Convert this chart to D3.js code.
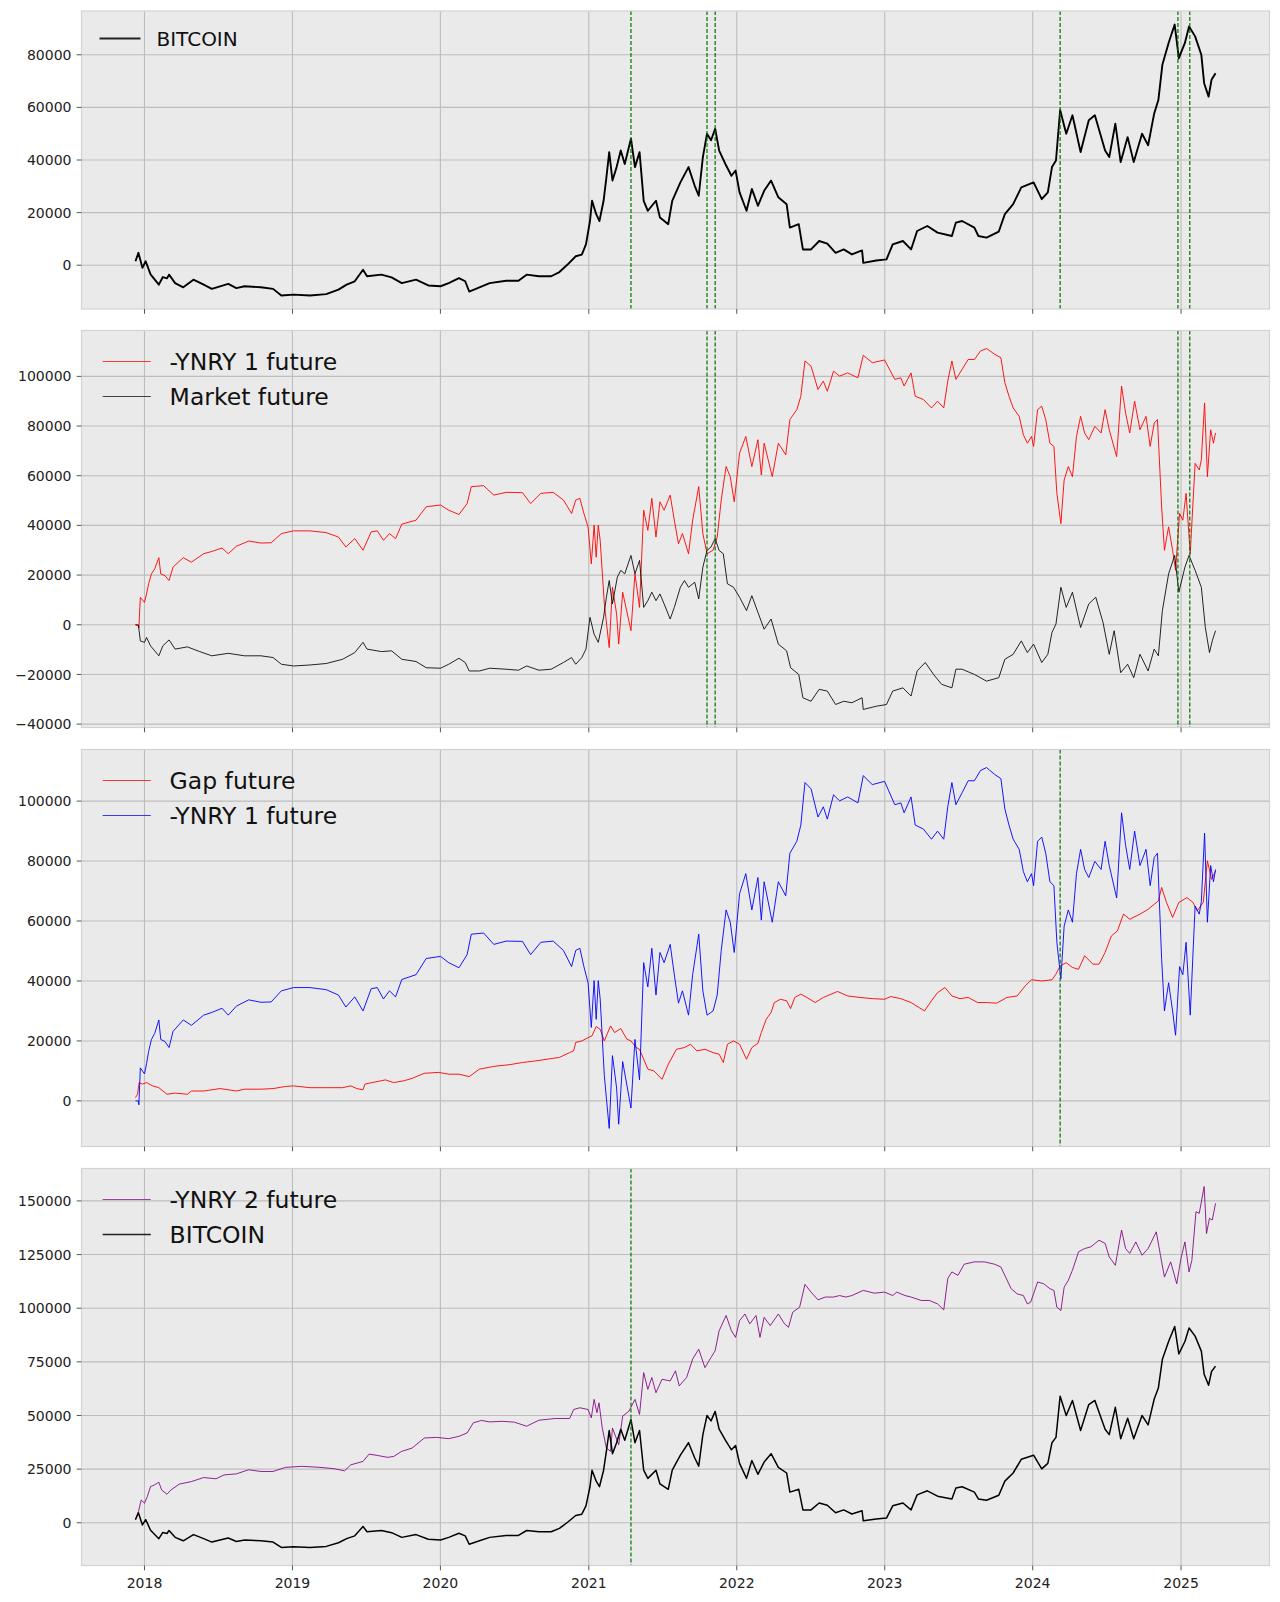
<!DOCTYPE html>
<html>
<head>
<meta charset="utf-8">
<script src="https://cdn.jsdelivr.net/npm/d3@7"></script>
<style>
  body { margin: 0; background: #fff; }
  svg { display: block; font-family: "DejaVu Sans", sans-serif; }
</style>
</head>
<body>
<svg id="chart" width="1280" height="1602"></svg>
<script>
// values, [decimal year, value]
var years = [2018, 2019, 2020, 2021, 2022, 2023, 2024, 2025];

var bitcoin = [
  [2017.939, 1500], [2017.959, 4700], [2017.986, -1000], [2018.008, 1500], [2018.041, -3500], [2018.097, -7400],
  [2018.124, -4500], [2018.152, -5000], [2018.166, -3600], [2018.207, -6800], [2018.262, -8400], [2018.331, -5500],
  [2018.400, -7400], [2018.455, -9000], [2018.566, -7100], [2018.621, -8700], [2018.676, -8000], [2018.787, -8400],
  [2018.869, -9000], [2018.925, -11500], [2019.007, -11200], [2019.118, -11500], [2019.228, -11000], [2019.311, -9300],
  [2019.366, -7400], [2019.421, -6100], [2019.477, -1700], [2019.504, -4200], [2019.601, -3600], [2019.670, -4600],
  [2019.739, -6800], [2019.835, -5500], [2019.918, -7700], [2020.001, -8000], [2020.056, -6800], [2020.125, -4900],
  [2020.167, -6100], [2020.194, -10000], [2020.263, -8400], [2020.332, -6800], [2020.443, -5900], [2020.526, -5900],
  [2020.581, -3600], [2020.664, -4200], [2020.746, -4200], [2020.802, -2600], [2020.857, 250], [2020.912, 3400],
  [2020.953, 4000], [2020.981, 7900], [2021.008, 16800], [2021.022, 24500], [2021.050, 19400], [2021.072, 16800],
  [2021.100, 24500], [2021.119, 33400], [2021.138, 43000], [2021.160, 32200], [2021.188, 37300], [2021.216, 43600],
  [2021.243, 38500], [2021.285, 48100], [2021.312, 37300], [2021.343, 43000], [2021.371, 24500], [2021.399, 20700],
  [2021.454, 24500], [2021.481, 18100], [2021.537, 15600], [2021.564, 24500], [2021.619, 31500], [2021.674, 37300],
  [2021.716, 30200], [2021.743, 26400], [2021.771, 41100], [2021.799, 50000], [2021.826, 47500], [2021.854, 51900],
  [2021.881, 43600], [2021.923, 38500], [2021.964, 34000], [2021.992, 36000], [2022.019, 27700], [2022.066, 20700],
  [2022.102, 29000], [2022.143, 22600], [2022.185, 28300], [2022.232, 32200], [2022.281, 25800], [2022.337, 23200],
  [2022.359, 14300], [2022.419, 15600], [2022.447, 6000], [2022.502, 6000], [2022.557, 9200], [2022.612, 8200],
  [2022.668, 4700], [2022.723, 6000], [2022.778, 4100], [2022.847, 5600], [2022.855, 900], [2022.943, 1800],
  [2023.012, 2200], [2023.054, 7900], [2023.123, 9200], [2023.178, 6000], [2023.219, 13000], [2023.288, 14900],
  [2023.357, 12400], [2023.454, 11100], [2023.481, 16200], [2023.523, 16800], [2023.606, 14300], [2023.633, 11100],
  [2023.688, 10500], [2023.771, 12800], [2023.812, 19400], [2023.868, 23200], [2023.923, 29600], [2024.006, 31500],
  [2024.061, 25100], [2024.102, 27700], [2024.130, 37300], [2024.157, 39800], [2024.185, 59000], [2024.226, 50000],
  [2024.268, 57000], [2024.323, 43000], [2024.378, 55100], [2024.419, 57000], [2024.488, 43600], [2024.516, 41100],
  [2024.557, 53800], [2024.593, 39200], [2024.640, 48700], [2024.681, 39200], [2024.737, 50000], [2024.778, 45600],
  [2024.819, 57700], [2024.847, 62800], [2024.874, 76200], [2024.916, 84500], [2024.957, 91500], [2024.985, 78700],
  [2025.026, 84500], [2025.054, 90800], [2025.095, 87000], [2025.137, 80000], [2025.156, 69200], [2025.186, 64100],
  [2025.206, 70500], [2025.233, 73000]
];

var ynry1 = [
  [2017.939, 0], [2017.959, 0], [2017.962, -1300], [2017.972, 11000], [2018.000, 9000], [2018.014, 12400],
  [2018.028, 16500], [2018.047, 20500], [2018.069, 22500], [2018.097, 27000], [2018.110, 20500], [2018.138, 19800],
  [2018.166, 17800], [2018.193, 23200], [2018.262, 27000], [2018.317, 25200], [2018.400, 28600], [2018.455, 29500],
  [2018.524, 30900], [2018.566, 28600], [2018.621, 31600], [2018.704, 33700], [2018.787, 32900], [2018.856, 33000],
  [2018.925, 36700], [2019.007, 37800], [2019.118, 37800], [2019.228, 37100], [2019.311, 35300], [2019.361, 31300],
  [2019.421, 34700], [2019.477, 30000], [2019.532, 37400], [2019.573, 37800], [2019.615, 34000], [2019.656, 36700],
  [2019.697, 34700], [2019.739, 40500], [2019.835, 42100], [2019.904, 47500], [2020.001, 48200], [2020.056, 46100],
  [2020.125, 44400], [2020.180, 48800], [2020.208, 55600], [2020.291, 56000], [2020.360, 52200], [2020.443, 53300],
  [2020.553, 53200], [2020.608, 48800], [2020.677, 52900], [2020.760, 53300], [2020.829, 50200], [2020.884, 44800],
  [2020.912, 50200], [2020.940, 50900], [2020.967, 44800], [2020.995, 39400], [2021.017, 24500], [2021.036, 40100],
  [2021.050, 27200], [2021.064, 40100], [2021.077, 34000], [2021.105, 8400], [2021.138, -9200], [2021.160, 15100],
  [2021.188, 4300], [2021.202, -7800], [2021.229, 13100], [2021.285, -2400], [2021.312, 20500], [2021.343, 7000],
  [2021.371, 46100], [2021.399, 38000], [2021.426, 50900], [2021.454, 35300], [2021.481, 49500], [2021.509, 46100],
  [2021.550, 52200], [2021.578, 42100], [2021.606, 32600], [2021.633, 36700], [2021.674, 28600], [2021.702, 42100],
  [2021.743, 55600], [2021.771, 36700], [2021.799, 28600], [2021.840, 30000], [2021.868, 35300], [2021.895, 50200],
  [2021.928, 63700], [2021.956, 59600], [2021.983, 49500], [2022.019, 69100], [2022.061, 75800], [2022.102, 63700],
  [2022.143, 74500], [2022.166, 60300], [2022.185, 73100], [2022.240, 59600], [2022.281, 73100], [2022.331, 68400],
  [2022.359, 82600], [2022.406, 86600], [2022.433, 92000], [2022.461, 106200], [2022.502, 104100], [2022.549, 94700],
  [2022.585, 98100], [2022.612, 94000], [2022.654, 102100], [2022.695, 100100], [2022.750, 101400], [2022.819, 99400],
  [2022.855, 108500], [2022.916, 105500], [2022.999, 106600], [2023.068, 98800], [2023.109, 99400], [2023.131, 96100],
  [2023.178, 101400], [2023.206, 92000], [2023.261, 90700], [2023.316, 87300], [2023.357, 90000], [2023.399, 87300],
  [2023.426, 98100], [2023.454, 106200], [2023.481, 98800], [2023.523, 102800], [2023.564, 106800], [2023.606, 106800],
  [2023.647, 110200], [2023.688, 111200], [2023.743, 108900], [2023.785, 107500], [2023.812, 97400], [2023.840, 92000],
  [2023.868, 87300], [2023.909, 83900], [2023.937, 76500], [2023.964, 73100], [2023.992, 75800], [2024.006, 71800],
  [2024.033, 86600], [2024.061, 88000], [2024.088, 82600], [2024.116, 73100], [2024.143, 71800], [2024.163, 52900],
  [2024.190, 40700], [2024.212, 58300], [2024.240, 63700], [2024.268, 59600], [2024.295, 75800], [2024.323, 83900],
  [2024.350, 77200], [2024.378, 74500], [2024.419, 79900], [2024.461, 77200], [2024.488, 86600], [2024.516, 78500],
  [2024.566, 67700], [2024.599, 96100], [2024.626, 85300], [2024.654, 77200], [2024.687, 90000], [2024.723, 78500],
  [2024.764, 83900], [2024.792, 71800], [2024.819, 81200], [2024.841, 82600], [2024.869, 47500], [2024.888, 30000],
  [2024.916, 39400], [2024.943, 30000], [2024.963, 21900], [2024.990, 44800], [2025.012, 42100], [2025.034, 52900],
  [2025.062, 28600], [2025.095, 65000], [2025.123, 62300], [2025.137, 66400], [2025.159, 89300], [2025.178, 59600],
  [2025.200, 78500], [2025.219, 73100], [2025.233, 77200]
];

var market = [
  [2017.939, 0], [2017.959, -300], [2017.972, -6500], [2018.000, -7100], [2018.014, -5100], [2018.041, -8500],
  [2018.097, -12500], [2018.124, -8500], [2018.166, -6100], [2018.207, -9800], [2018.290, -8900], [2018.373, -10800],
  [2018.455, -12500], [2018.566, -11500], [2018.676, -12500], [2018.787, -12500], [2018.869, -13200], [2018.925, -15900],
  [2019.007, -16600], [2019.118, -16200], [2019.228, -15600], [2019.339, -13900], [2019.421, -11200], [2019.477, -7100],
  [2019.504, -9800], [2019.601, -10800], [2019.670, -10500], [2019.739, -13900], [2019.835, -14800], [2019.904, -17300],
  [2020.001, -17500], [2020.056, -15900], [2020.125, -13500], [2020.167, -15200], [2020.194, -18600], [2020.263, -18600],
  [2020.332, -17500], [2020.443, -17900], [2020.526, -18300], [2020.581, -16600], [2020.664, -18300], [2020.746, -17900],
  [2020.829, -15200], [2020.884, -13200], [2020.912, -15900], [2020.953, -13200], [2020.981, -9800], [2021.008, 3000],
  [2021.036, -3800], [2021.064, -7100], [2021.100, 3000], [2021.119, 11100], [2021.138, 17800], [2021.160, 8400],
  [2021.193, 19200], [2021.216, 21900], [2021.243, 20500], [2021.285, 27900], [2021.312, 20500], [2021.343, 25900],
  [2021.371, 7000], [2021.399, 9700], [2021.426, 13100], [2021.454, 9700], [2021.481, 12400], [2021.509, 8400],
  [2021.550, 2300], [2021.578, 7000], [2021.619, 15100], [2021.647, 17800], [2021.674, 15100], [2021.716, 17100],
  [2021.743, 10400], [2021.771, 23200], [2021.799, 29900], [2021.826, 31300], [2021.854, 34700], [2021.881, 29900],
  [2021.909, 28600], [2021.937, 16500], [2021.978, 15100], [2022.019, 11100], [2022.066, 5700], [2022.102, 11700],
  [2022.143, 5000], [2022.185, -1800], [2022.232, 2300], [2022.281, -7800], [2022.337, -10500], [2022.364, -17300],
  [2022.419, -20000], [2022.447, -29400], [2022.502, -30800], [2022.557, -26000], [2022.612, -26700], [2022.668, -32100],
  [2022.723, -30800], [2022.778, -31400], [2022.847, -29400], [2022.855, -34100], [2022.943, -32800], [2023.012, -32100],
  [2023.054, -26700], [2023.123, -25400], [2023.178, -28700], [2023.219, -18600], [2023.274, -15200], [2023.330, -20000],
  [2023.385, -24000], [2023.454, -25400], [2023.481, -17900], [2023.523, -17900], [2023.606, -20000], [2023.688, -22700],
  [2023.771, -21300], [2023.812, -13900], [2023.868, -11900], [2023.923, -6500], [2023.964, -11200], [2024.006, -7800],
  [2024.061, -15200], [2024.102, -11900], [2024.130, -3100], [2024.157, 300], [2024.190, 15100], [2024.226, 7000],
  [2024.268, 13100], [2024.323, -1100], [2024.378, 8400], [2024.425, 11100], [2024.474, 900], [2024.516, -11900],
  [2024.549, -2400], [2024.593, -19300], [2024.640, -15900], [2024.681, -21300], [2024.723, -11900], [2024.778, -18600],
  [2024.819, -9800], [2024.847, -12500], [2024.874, 5700], [2024.916, 20500], [2024.957, 27900], [2024.985, 13100],
  [2025.026, 23200], [2025.054, 27900], [2025.095, 21900], [2025.137, 15100], [2025.164, -1100], [2025.192, -11200],
  [2025.211, -6500], [2025.233, -2400]
];

var gap = [
  [2017.939, 1100], [2017.953, 2200], [2017.964, 6100], [2017.986, 5600], [2018.014, 6100], [2018.055, 5000],
  [2018.097, 4400], [2018.152, 2200], [2018.207, 2600], [2018.290, 2200], [2018.317, 3300], [2018.400, 3300],
  [2018.511, 4100], [2018.621, 3300], [2018.676, 3900], [2018.787, 3900], [2018.869, 4100], [2018.952, 4800],
  [2019.007, 5000], [2019.118, 4400], [2019.228, 4400], [2019.339, 4400], [2019.394, 5000], [2019.435, 4100],
  [2019.477, 3700], [2019.490, 5600], [2019.559, 6300], [2019.628, 7000], [2019.684, 6100], [2019.753, 6700],
  [2019.808, 7500], [2019.891, 9200], [2019.987, 9500], [2020.056, 8900], [2020.125, 8900], [2020.194, 8100],
  [2020.263, 10600], [2020.360, 11500], [2020.470, 12100], [2020.553, 12800], [2020.636, 13300], [2020.719, 13900],
  [2020.802, 14500], [2020.871, 16100], [2020.898, 16700], [2020.912, 19500], [2020.953, 20000], [2020.995, 21100],
  [2021.022, 21700], [2021.050, 24800], [2021.077, 23900], [2021.105, 20000], [2021.147, 25000], [2021.174, 22800],
  [2021.216, 24100], [2021.257, 20600], [2021.285, 20000], [2021.320, 17800], [2021.343, 17200], [2021.399, 10600],
  [2021.440, 10000], [2021.495, 7200], [2021.537, 12200], [2021.592, 17200], [2021.647, 17800], [2021.688, 18900],
  [2021.730, 16700], [2021.785, 17200], [2021.840, 16100], [2021.881, 15600], [2021.909, 12800], [2021.937, 18900],
  [2021.978, 20000], [2022.019, 18900], [2022.066, 13900], [2022.102, 17800], [2022.143, 19200], [2022.166, 22800],
  [2022.199, 27200], [2022.232, 29500], [2022.254, 32800], [2022.295, 33900], [2022.337, 33400], [2022.364, 30800],
  [2022.392, 34500], [2022.433, 35600], [2022.474, 34500], [2022.530, 32800], [2022.585, 34500], [2022.681, 36500],
  [2022.750, 35000], [2022.833, 34500], [2022.916, 34100], [2022.999, 33900], [2023.040, 34800], [2023.109, 34100],
  [2023.178, 32800], [2023.233, 31100], [2023.269, 30000], [2023.316, 33400], [2023.357, 36100], [2023.407, 37800],
  [2023.454, 35000], [2023.509, 34100], [2023.564, 34500], [2023.628, 32800], [2023.688, 32800], [2023.757, 32600],
  [2023.826, 34500], [2023.895, 35000], [2023.950, 38400], [2023.992, 40400], [2024.061, 40000], [2024.130, 40400],
  [2024.157, 42300], [2024.185, 45000], [2024.226, 46100], [2024.268, 44500], [2024.309, 43900], [2024.350, 48400],
  [2024.406, 45600], [2024.447, 45600], [2024.488, 49500], [2024.530, 55000], [2024.571, 56700], [2024.612, 62300],
  [2024.654, 60600], [2024.723, 62300], [2024.778, 63900], [2024.819, 65600], [2024.847, 66700], [2024.869, 71200],
  [2024.902, 66200], [2024.943, 61200], [2024.985, 66200], [2025.040, 67800], [2025.081, 66200], [2025.109, 63400],
  [2025.150, 66200], [2025.178, 80100], [2025.206, 73900], [2025.233, 76700]
];

var ynry2 = [
  [2017.939, 1300], [2017.959, 5200], [2017.978, 10600], [2018.000, 9100], [2018.019, 12200], [2018.041, 16900],
  [2018.069, 17700], [2018.097, 18900], [2018.116, 15300], [2018.152, 13300], [2018.179, 15300], [2018.235, 18000],
  [2018.317, 19200], [2018.400, 21100], [2018.483, 20500], [2018.538, 22300], [2018.621, 22800], [2018.704, 24700],
  [2018.787, 23900], [2018.869, 23900], [2018.952, 25800], [2019.063, 26300], [2019.173, 25900], [2019.283, 25200],
  [2019.352, 24200], [2019.394, 27000], [2019.477, 28600], [2019.518, 32000], [2019.573, 31400], [2019.642, 30500],
  [2019.684, 30900], [2019.739, 33300], [2019.808, 34800], [2019.891, 39500], [2019.973, 39800], [2020.056, 39200],
  [2020.125, 40300], [2020.180, 41900], [2020.222, 46600], [2020.277, 47700], [2020.332, 47000], [2020.415, 47300],
  [2020.498, 46900], [2020.581, 45000], [2020.664, 47800], [2020.774, 48600], [2020.871, 48600], [2020.898, 52800],
  [2020.940, 53600], [2020.995, 52800], [2021.017, 48900], [2021.036, 57500], [2021.055, 51300], [2021.069, 55900],
  [2021.091, 44200], [2021.119, 34800], [2021.147, 33300], [2021.160, 44200], [2021.202, 36400], [2021.229, 49700],
  [2021.271, 52000], [2021.312, 57500], [2021.343, 50500], [2021.371, 70000], [2021.399, 62200], [2021.426, 67700],
  [2021.454, 60600], [2021.495, 66900], [2021.550, 66100], [2021.586, 70800], [2021.611, 63800], [2021.661, 67700],
  [2021.702, 76300], [2021.743, 80900], [2021.785, 72300], [2021.826, 77000], [2021.854, 80200], [2021.881, 89500],
  [2021.928, 96600], [2021.964, 89500], [2021.992, 86400], [2022.019, 94200], [2022.055, 97300], [2022.088, 92700],
  [2022.130, 96600], [2022.157, 86400], [2022.185, 95800], [2022.226, 91900], [2022.281, 97300], [2022.323, 92700],
  [2022.350, 91100], [2022.378, 98100], [2022.425, 100500], [2022.461, 111100], [2022.502, 107500], [2022.549, 103900],
  [2022.599, 105200], [2022.654, 105200], [2022.695, 105900], [2022.737, 105200], [2022.778, 105900], [2022.855, 108300],
  [2022.930, 107000], [2022.999, 107500], [2023.054, 105900], [2023.081, 107500], [2023.137, 105900], [2023.178, 105200],
  [2023.247, 103600], [2023.302, 103600], [2023.357, 102000], [2023.399, 99200], [2023.426, 113800], [2023.454, 116900],
  [2023.495, 115300], [2023.537, 120500], [2023.606, 121600], [2023.674, 121600], [2023.743, 120500], [2023.785, 119200],
  [2023.812, 115300], [2023.854, 109100], [2023.895, 106700], [2023.937, 105900], [2023.964, 102000], [2023.986, 102800],
  [2024.006, 106700], [2024.033, 112200], [2024.074, 111400], [2024.116, 109100], [2024.143, 108300], [2024.163, 100500],
  [2024.190, 98900], [2024.212, 109800], [2024.240, 113000], [2024.268, 117700], [2024.309, 126300], [2024.350, 127800],
  [2024.392, 128600], [2024.447, 131700], [2024.488, 130200], [2024.516, 123900], [2024.557, 120000], [2024.599, 136400],
  [2024.626, 127800], [2024.654, 125500], [2024.695, 130900], [2024.737, 124700], [2024.778, 127800], [2024.833, 135600],
  [2024.861, 124700], [2024.888, 114500], [2024.930, 121600], [2024.971, 111400], [2024.999, 123100], [2025.026, 130900],
  [2025.054, 116900], [2025.073, 122300], [2025.101, 145000], [2025.123, 144200], [2025.156, 156700], [2025.172, 134800],
  [2025.192, 141900], [2025.211, 141100], [2025.233, 148900]
];

// dates of the dashed markers in each panel
var events1 = [2021.285, 2021.799, 2021.854, 2024.185, 2024.979, 2025.059];
var events2 = [2021.799, 2021.854, 2024.979, 2025.059];
var events3 = [2024.185];
var events4 = [2021.285];

var ticks1 = [0, 20000, 40000, 60000, 80000];
var ticks2 = [-40000, -20000, 0, 20000, 40000, 60000, 80000, 100000];
var ticks3 = [0, 20000, 40000, 60000, 80000, 100000];
var ticks4 = [0, 25000, 50000, 75000, 100000, 125000, 150000];

(function (d3) {
  'use strict';

  var svg = d3.select("#chart");
  var left = 81.5, right = 1269.5;

  function toDate(y) {
    var yr = Math.floor(y);
    var a = Date.UTC(yr, 0, 1), b = Date.UTC(yr + 1, 0, 1);
    return new Date(a + (y - yr) * (b - a));
  }

  var panels = [
    {top: 11, height: 298, ticks: ticks1, events: events1, fontSize: 20, legendY: 27.5,
      series: [{name: "BITCOIN", data: bitcoin, color: "#000", width: 1.9, opacity: 1}]},
    {top: 330.5, height: 397, ticks: ticks2, events: events2, fontSize: 23.5, legendY: 31,
      series: [{name: "-YNRY 1 future", data: ynry1, color: "red", width: 1, opacity: 0.9},
               {name: "Market future", data: market, color: "#000", width: 1, opacity: 0.85}]},
    {top: 749.5, height: 397, ticks: ticks3, events: events3, fontSize: 23.5, legendY: 31,
      series: [{name: "Gap future", data: gap, color: "red", width: 1, opacity: 0.9},
               {name: "-YNRY 1 future", data: ynry1, color: "blue", width: 1, opacity: 0.9}]},
    {top: 1168.5, height: 397, ticks: ticks4, events: events4, fontSize: 23.5, legendY: 31,
      series: [{name: "-YNRY 2 future", data: ynry2, color: "purple", width: 1, opacity: 0.85},
               {name: "BITCOIN", data: bitcoin, color: "#000", width: 1.5, opacity: 1}]}
  ];

  // shared x domain with 5% margins like matplotlib
  var allT = [];
  panels.forEach(function (p) {
    p.series.forEach(function (s) { s.data.forEach(function (d) { allT.push(d[0]); }); });
  });
  var tExt = d3.extent(allT);
  var tPad = (tExt[1] - tExt[0]) * 0.05;
  var x = d3.scaleUtc()
    .domain([toDate(tExt[0] - tPad), toDate(tExt[1] + tPad)])
    .range([left, right]);

  panels.forEach(function (p, pi) {
    var bottom = p.top + p.height;
    var vals = [];
    p.series.forEach(function (s) { s.data.forEach(function (d) { vals.push(d[1]); }); });
    var ext = d3.extent(vals);
    var pad = (ext[1] - ext[0]) * 0.05;
    var y = d3.scaleLinear().domain([ext[0] - pad, ext[1] + pad]).range([bottom, p.top]);

    var g = svg.append("g").attr("class", "panel");

    g.append("rect")
      .attr("x", left).attr("y", p.top)
      .attr("width", right - left).attr("height", p.height)
      .attr("fill", "#eaeaea");

    var clipId = "clip" + pi;
    g.append("clipPath").attr("id", clipId).append("rect")
      .attr("x", left).attr("y", p.top)
      .attr("width", right - left).attr("height", p.height);

    // grid
    g.selectAll(".ygrid").data(p.ticks).enter().append("line")
      .attr("x1", left).attr("x2", right)
      .attr("y1", function (d) { return y(d); }).attr("y2", function (d) { return y(d); })
      .attr("stroke", "#bdbdbd").attr("stroke-width", 1.1);
    g.selectAll(".xgrid").data(years).enter().append("line")
      .attr("y1", p.top).attr("y2", bottom)
      .attr("x1", function (d) { return x(toDate(d)); }).attr("x2", function (d) { return x(toDate(d)); })
      .attr("stroke", "#bdbdbd").attr("stroke-width", 1.1);

    var line = d3.line()
      .x(function (d) { return x(toDate(d[0])); })
      .y(function (d) { return y(d[1]); });

    var plot = g.append("g").attr("clip-path", "url(#" + clipId + ")");
    p.series.forEach(function (s) {
      plot.append("path")
        .datum(s.data)
        .attr("d", line)
        .attr("fill", "none")
        .attr("stroke", s.color)
        .attr("stroke-opacity", s.opacity)
        .attr("stroke-width", s.width)
        .attr("stroke-linejoin", "round");
    });

    plot.selectAll(".event").data(p.events).enter().append("line")
      .attr("x1", function (d) { return x(toDate(d)); }).attr("x2", function (d) { return x(toDate(d)); })
      .attr("y1", p.top).attr("y2", bottom)
      .attr("stroke", "#007000").attr("stroke-width", 1.2)
      .attr("stroke-dasharray", "4,2");

    // frame
    g.append("rect")
      .attr("x", left).attr("y", p.top)
      .attr("width", right - left).attr("height", p.height)
      .attr("fill", "none").attr("stroke", "#d2d2d2").attr("stroke-width", 1.2);

    // y ticks and labels
    var yt = g.selectAll(".ytick").data(p.ticks).enter().append("g");
    yt.append("line")
      .attr("x1", left - 4.8).attr("x2", left)
      .attr("y1", function (d) { return y(d); }).attr("y2", function (d) { return y(d); })
      .attr("stroke", "#555").attr("stroke-width", 1);
    yt.append("text")
      .attr("x", left - 10)
      .attr("y", function (d) { return y(d) + 5.1; })
      .attr("text-anchor", "end")
      .attr("font-size", 14)
      .attr("fill", "#222")
      .text(function (d) { return d3.format("d")(d); });

    // x ticks, labels only on the bottom panel
    g.selectAll(".xtick").data(years).enter().append("line")
      .attr("x1", function (d) { return x(toDate(d)); }).attr("x2", function (d) { return x(toDate(d)); })
      .attr("y1", bottom).attr("y2", bottom + 4.8)
      .attr("stroke", "#555").attr("stroke-width", 1);
    if (pi === panels.length - 1) {
      g.selectAll(".xlabel").data(years).enter().append("text")
        .attr("x", function (d) { return x(toDate(d)); })
        .attr("y", bottom + 22.5)
        .attr("text-anchor", "middle")
        .attr("font-size", 14)
        .attr("fill", "#222")
        .text(function (d) { return d; });
    }

    // legend
    var fs = p.fontSize;
    var lx = left + 0.9 * fs;
    var leg = g.selectAll(".legend").data(p.series).enter().append("g")
      .attr("transform", function (d, i) { return "translate(" + lx + "," + (p.top + p.legendY + i * 1.49 * fs) + ")"; });
    leg.append("line")
      .attr("x1", 0).attr("x2", 2.05 * fs)
      .attr("stroke", function (d) { return d.color; })
      .attr("stroke-opacity", function (d) { return d.opacity * 0.85; })
      .attr("stroke-width", function (d) { return d.width + 0.2; });
    leg.append("text")
      .attr("x", 2.85 * fs)
      .attr("y", 0.36 * fs)
      .attr("font-size", fs)
      .attr("fill", "#111")
      .text(function (d) { return d.name; });
  });

})(window.d3);
</script>
</body>
</html>
